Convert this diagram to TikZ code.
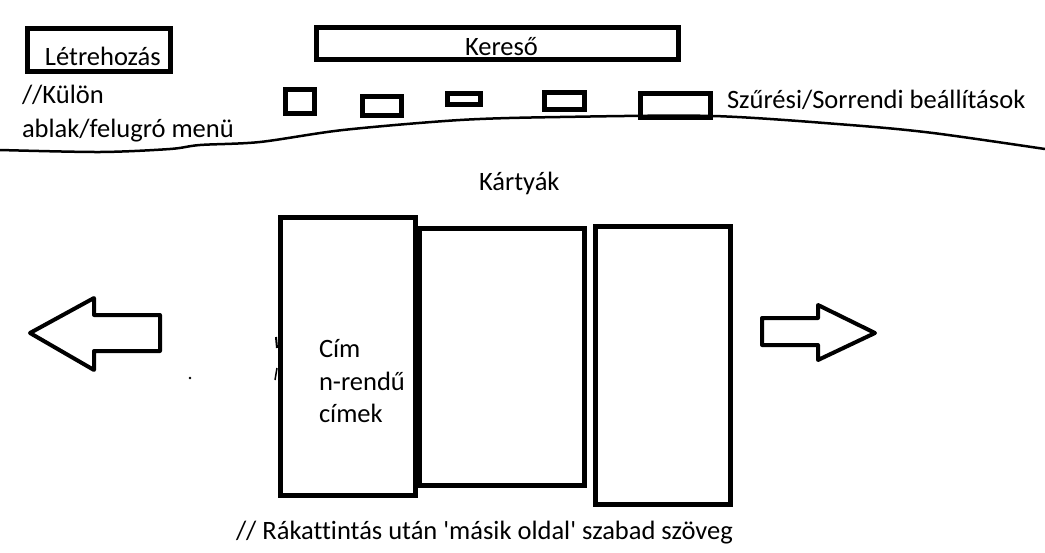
\documentclass[tikz,border=0pt]{standalone}
\usepackage{fontspec}
\setmainfont{Carlito}[Ligatures={NoCommon}]
\begin{document}
\begin{tikzpicture}[x=1pt,y=-1pt,
  box/.style={draw, line width=5pt, inner sep=0pt, outer sep=0pt},
  txt/.style={anchor=base west, inner sep=0pt, outer sep=0pt, font=\fontsize{26.5}{32}\selectfont},
  shapeline/.style={line width=4pt, line join=round}]
\useasboundingbox (0,0) rectangle (1045,552);
% top boxes
\node[box, minimum width=143pt, minimum height=43pt] (create) at (99,50) {};
\node[box, minimum width=362pt, minimum height=31.5pt] (search) at (497.5,43.25) {};
\node[box, minimum width=29pt, minimum height=24pt] (f1) at (300,101.5) {};
\node[box, minimum width=39pt, minimum height=19pt] (f2) at (382,106) {};
\node[box, minimum width=33pt, minimum height=11pt] (f3) at (464,99) {};
\node[box, minimum width=40pt, minimum height=17pt] (f4) at (564.5,101) {};
\node[box, minimum width=70pt, minimum height=24pt] (f5) at (675.5,105.5) {};
% texts
\node[txt] (tcreate) at (45,65) {Létrehozás};
\node[txt] (tsearch) at (465,55) {Kereső};
\node[txt] (tkulon) at (22,103) {//Külön};
\node[txt] (tablak) at (22,137) {ablak/felugró menü};
\node[txt] (tfilter) at (727,108) {Szűrési/Sorrendi beállítások};
\node[txt] (tcards) at (479,190) {Kártyák};
% wavy separator
\draw[line width=2.5pt, line cap=round] plot[smooth, tension=0.5] coordinates
  {(0,150) (100,152) (170,149) (200,145) (260,142) (343,130) (460,120) (560,117) (713,116) (850,125) (933,133) (1045,149)};
% cards
\node[box, minimum width=165pt, minimum height=256.5pt] (card2) at (502,356.75) {};
\node[box, minimum width=135pt, minimum height=278pt] (card1) at (348,356.5) {};
\node[box, minimum width=135pt, minimum height=278pt] (card3) at (663,365.5) {};
\node[txt] (tcim) at (319,357) {Cím};
\node[txt] (tnrend) at (319,390) {n-rendű};
\node[txt] (tcimek) at (319,422) {címek};
% arrows
\draw[shapeline] (30,333) -- (94,298) -- (94,315) -- (160,315) -- (160,351) -- (94,351) -- (94,370) -- cycle;
\draw[shapeline] (875,333) -- (818,305) -- (818,318) -- (762,318) -- (762,345) -- (818,345) -- (818,360) -- cycle;
% stray marks
\draw[line width=2pt] (276,337) -- (277,348);
\draw[line width=1.5pt] (277,368) -- (275,380);
\fill (190,378) circle (1.3pt);
% bottom note
\node[txt] (tnote) at (236,539) {// Rákattintás után \textquotesingle másik oldal\textquotesingle{} szabad szöveg};
\end{tikzpicture}
\end{document}
